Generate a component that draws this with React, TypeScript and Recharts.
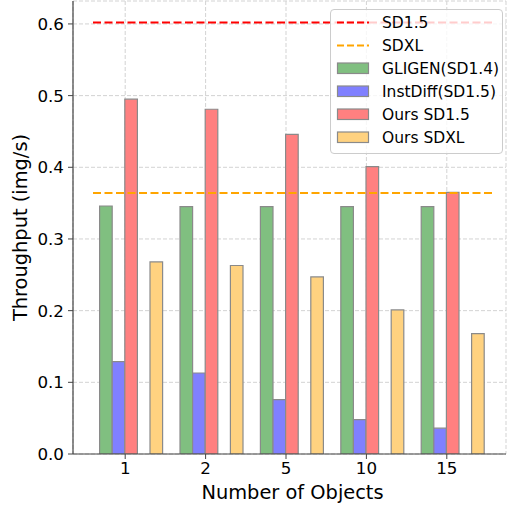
import React from 'react';
import { BarChart, Bar, XAxis, YAxis, CartesianGrid, ReferenceLine, Legend } from 'recharts';

// values
const objectCounts = ['1', '2', '5', '10', '15'];
const gligenSD14 = [0.346, 0.345, 0.345, 0.345, 0.345];
const instDiffSD15 = [0.129, 0.113, 0.076, 0.048, 0.036];
const oursSD15 = [0.495, 0.481, 0.446, 0.401, 0.365];
const oursSDXL = [0.268, 0.263, 0.247, 0.201, 0.168];
const baselineSD15 = 0.602;
const baselineSDXL = 0.364;
const yTicks = [0, 0.1, 0.2, 0.3, 0.4, 0.5, 0.6];

const FONT = '"DejaVu Sans", sans-serif';
const AXIS = '#444';
const EDGE = '#8a8a8a';

const data = objectCounts.map((n, i) => ({
  n,
  gligen: gligenSD14[i],
  instdiff: instDiffSD15[i],
  ours15: oursSD15[i],
  oursXL: oursSDXL[i],
}));

const legendItems = [
  { label: 'SD1.5', kind: 'line', color: '#ff0000' },
  { label: 'SDXL', kind: 'line', color: '#ffa500' },
  { label: 'GLIGEN(SD1.4)', kind: 'patch', color: '#80bf80' },
  { label: 'InstDiff(SD1.5)', kind: 'patch', color: '#8080ff' },
  { label: 'Ours SD1.5', kind: 'patch', color: '#ff8080' },
  { label: 'Ours SDXL', kind: 'patch', color: '#ffd280' },
];

function LegendBox() {
  return (
    <div
      style={{
        width: 173,
        height: 145,
        boxSizing: 'border-box',
        background: 'rgba(255,255,255,0.8)',
        border: '1px solid #cccccc',
        borderRadius: 4,
        paddingTop: 1,
        fontFamily: FONT,
        fontSize: 15.5,
        color: '#000',
      }}
    >
      {legendItems.map((it) => (
        <div key={it.label} style={{ height: 23, display: 'flex', alignItems: 'center' }}>
          <svg width={51} height={23} style={{ flex: 'none' }}>
            {it.kind === 'line' ? (
              <line x1={6} y1={11.5} x2={38} y2={11.5} stroke={it.color} strokeWidth={2} strokeDasharray="7 3" />
            ) : (
              <rect x={6.5} y={6} width={31} height={10.5} fill={it.color} stroke={EDGE} strokeWidth={1.2} />
            )}
          </svg>
          <span style={{ whiteSpace: 'nowrap' }}>{it.label}</span>
        </div>
      ))}
    </div>
  );
}

const dashed = (color: string) => (p: any) => (
  <line
    x1={p.x1 + 20}
    y1={p.y1}
    x2={p.x2 - 12}
    y2={p.y2}
    stroke={color}
    strokeWidth={2}
    strokeDasharray="8 3.5"
  />
);

export default function App() {
  const tick = { fontSize: 16.7, fill: '#000', fontFamily: FONT };
  return (
    <div style={{ position: 'absolute', left: 0, top: 0 }}>
      <BarChart
        width={507}
        height={508}
        data={data}
        margin={{ top: 1, right: 1, left: 0, bottom: 0 }}
        barSize={12.6}
        barGap={0}
      >
        <CartesianGrid stroke="#d3d3d3" strokeDasharray="4 2" />
        <XAxis
          dataKey="n"
          height={54}
          padding={{ left: 12, right: 19 }}
          tick={tick}
          tickSize={5}
          tickMargin={3}
          stroke={AXIS}
          axisLine={{ stroke: AXIS, strokeWidth: 1.2 }}
          tickLine={{ stroke: AXIS }}
          label={{
            value: 'Number of Objects',
            position: 'insideBottom',
            offset: 9,
            dx: 3,
            style: { fontSize: 19.4, fill: '#000', fontFamily: FONT },
          }}
        />
        <XAxis
          xAxisId="top"
          dataKey="n"
          orientation="top"
          height={0}
          tick={false}
          tickLine={false}
          axisLine={{ stroke: AXIS, strokeWidth: 1.2 }}
        />
        <YAxis
          width={73}
          domain={[0, 0.632]}
          ticks={yTicks}
          allowDataOverflow
          tickFormatter={(v: number) => v.toFixed(1)}
          tick={tick}
          tickSize={5}
          tickMargin={4}
          axisLine={{ stroke: AXIS, strokeWidth: 1.2 }}
          tickLine={{ stroke: AXIS }}
          label={{
            content: ({ viewBox }: any) => (
              <text
                x={viewBox.x + 20}
                y={viewBox.y + viewBox.height / 2}
                transform={`rotate(-90 ${viewBox.x + 20} ${viewBox.y + viewBox.height / 2})`}
                textAnchor="middle"
                dominantBaseline="central"
                style={{ fontSize: 19.4, fill: '#000', fontFamily: FONT }}
              >
                Throughput (img/s)
              </text>
            ),
          }}
        />
        <YAxis
          yAxisId="right"
          orientation="right"
          width={0}
          domain={[0, 0.632]}
          tick={false}
          tickLine={false}
          axisLine={{ stroke: AXIS, strokeWidth: 1.2 }}
        />
        <Bar dataKey="spacerA" fill="none" isAnimationActive={false} />
        <Bar dataKey="gligen" fill="#80bf80" stroke={EDGE} strokeWidth={1.2} isAnimationActive={false} />
        <Bar dataKey="instdiff" fill="#8080ff" stroke={EDGE} strokeWidth={1.2} isAnimationActive={false} />
        <Bar dataKey="ours15" fill="#ff8080" stroke={EDGE} strokeWidth={1.2} isAnimationActive={false} />
        <Bar dataKey="spacerB" fill="none" isAnimationActive={false} />
        <Bar dataKey="oursXL" fill="#ffd280" stroke={EDGE} strokeWidth={1.2} isAnimationActive={false} />
        <ReferenceLine y={baselineSD15} shape={dashed('#ff0000')} />
        <ReferenceLine y={baselineSDXL} shape={dashed('#ffa500')} />
        <Legend
          verticalAlign="middle"
          align="center"
          content={() => <LegendBox />}
          wrapperStyle={{ position: 'absolute', left: 330, top: 9, width: 173, height: 145 }}
        />
      </BarChart>
    </div>
  );
}
